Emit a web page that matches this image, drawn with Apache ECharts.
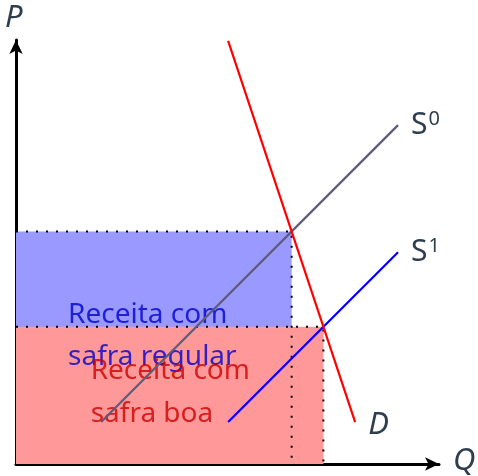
<!DOCTYPE html>
<html><head><meta charset="utf-8">
<script src="https://cdn.jsdelivr.net/npm/echarts@6/dist/echarts.min.js"></script>
<style>html,body{margin:0;padding:0;background:#fff}#c{width:478px;height:476px}</style>
</head><body><div id="c"></div>
<script>
// model data (quantity Q, price P)
const supply0 = [[2, 1], [11.35, 10.35]];
const supply1 = [[6, 1], [11.35, 6.35]];
const demand = [[6, 13], [10, 1]];
const eqRegular = [8, 7];   // S0 x D
const eqGood = [9, 4];      // S1 x D
const axisMin = [-0.68, -0.32];
const axisMax = [12.64, 13.03];
const textRegular = ['Receita com', 'safra regular'];
const textGood = ['Receita com', 'safra boa'];

const INK = '#2f3e4e';
const chart = echarts.init(document.getElementById('c'), null, {renderer: 'canvas'});

function rectSeries(p0, p1, color, z) {
  return {
    type: 'custom', z: z, silent: true,
    data: [[p0[0], p0[1], p1[0], p1[1]]],
    renderItem: function (params, api) {
      const a = api.coord([api.value(0), api.value(1)]);
      const b = api.coord([api.value(2), api.value(3)]);
      return {type: 'rect', shape: {x: Math.min(a[0], b[0]), y: Math.min(a[1], b[1]),
        width: Math.abs(b[0] - a[0]), height: Math.abs(b[1] - a[1])}, style: {fill: color}};
    }
  };
}
function dotted(eq) {
  return {type: 'line', z: 4, silent: true, symbol: 'none',
    data: [[axisMin[0], eq[1]], [eq[0], eq[1]], [eq[0], axisMin[1]]],
    lineStyle: {color: '#000', width: 2, type: [2, 8]}};
}
function textSeries(lines, x, ys, color) {
  return {type: 'scatter', z: 3, silent: true, symbolSize: 0,
    data: lines.map((t, i) => ({value: [x, ys[i]], name: t})),
    label: {show: true, position: 'right', distance: 0, formatter: '{b}',
      fontFamily: 'Noto Sans', fontSize: 28, color: color}};
}
function curve(data, color, fmt) {
  return {type: 'line', z: 5, silent: true, symbol: 'none', data: data,
    lineStyle: {color: color, width: 2.2},
    endLabel: {show: true, formatter: fmt, distance: 13,
      rich: {
        s: {fontFamily: 'Noto Sans', fontSize: 30, color: INK},
        i: {fontFamily: 'Noto Sans', fontStyle: 'italic', fontSize: 31, color: INK, padding: [6, 0, 0, 0]},
        sup: {fontFamily: 'Noto Sans', fontSize: 20, color: INK, verticalAlign: 'top', padding: [0, 0, 12, 1]}
      }}};
}

chart.setOption({
  animation: false,
  grid: {left: 16, right: 39, top: 40, bottom: 12},
  xAxis: {type: 'value', min: axisMin[0], max: axisMax[0],
    axisLine: {show: true, onZero: false, symbol: ['none', 'arrow'], symbolSize: [10, 14], lineStyle: {color: '#000', width: 3}},
    axisTick: {show: false}, axisLabel: {show: false}, splitLine: {show: false}},
  yAxis: {type: 'value', min: axisMin[1], max: axisMax[1],
    axisLine: {show: true, onZero: false, symbol: ['none', 'arrow'], symbolSize: [10, 14], lineStyle: {color: '#000', width: 3}},
    axisTick: {show: false}, axisLabel: {show: false}, splitLine: {show: false}},
  graphic: [
    {type: 'text', left: 5, top: 3, style: {text: 'P', fontFamily: 'Noto Sans', fontStyle: 'italic', fontSize: 31, fill: INK}},
    {type: 'text', left: 453, top: 446, style: {text: 'Q', fontFamily: 'Noto Sans', fontStyle: 'italic', fontSize: 31, fill: INK}}
  ],
  series: [
    rectSeries([axisMin[0], axisMin[1]], eqRegular, '#9999ff', 1),
    rectSeries([axisMin[0], axisMin[1]], eqGood, '#ff9999', 2),
    textSeries(textRegular, 0.96, [4.36, 3.06], '#0000cc'),
    textSeries(textGood, 1.67, [2.60, 1.25], '#cc0000'),
    dotted(eqRegular),
    dotted(eqGood),
    curve(supply0, '#5f5b78', '{s|S}{sup|0}'),
    curve(supply1, '#0000ff', '{s|S}{sup|1}'),
    curve(demand, '#ff0000', '{i|D}')
  ]
});
</script></body></html>
